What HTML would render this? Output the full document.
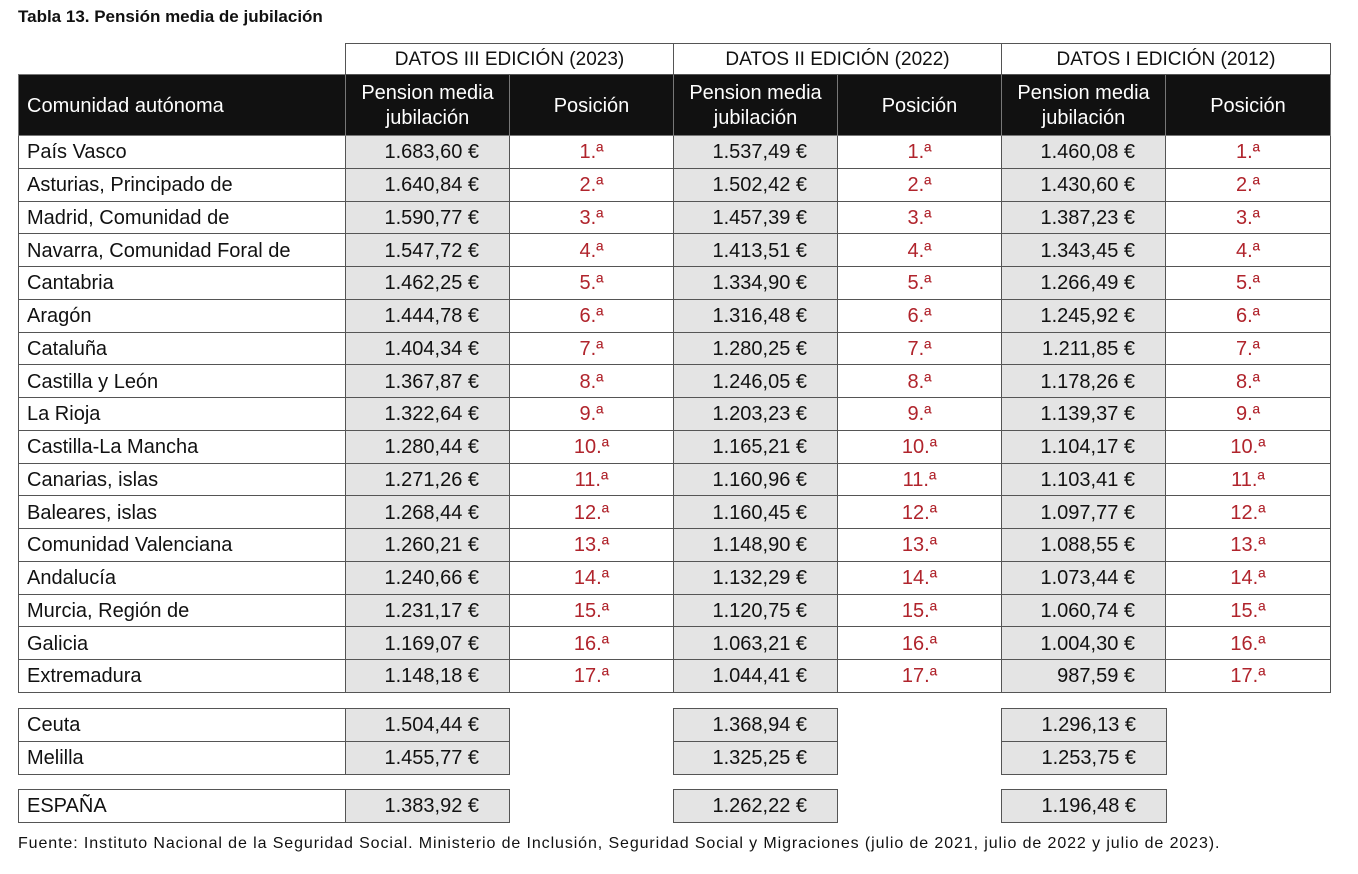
<!DOCTYPE html>
<html><head><meta charset="utf-8"><style>
body{margin:0;width:1358px;height:874px;background:#fff;position:relative;overflow:hidden;font-family:"Liberation Sans",sans-serif;color:#111}
.t{position:absolute;left:18px;top:7px;font-weight:bold;font-size:17px}
table{position:absolute;border-collapse:collapse;table-layout:fixed;font-size:20px}
td{border:1.5px solid #555;padding:0;white-space:nowrap;overflow:hidden;padding-top:2px}
td.n{padding-left:8px}
td.v{background:#e4e4e4;text-align:right;padding-right:30px}
td.p{color:#b0242c;text-align:center}
tr.d{height:32.76px}
tr.h1{height:31px}
.h1 td{text-align:center;font-size:19px}
tr.h2{height:61px}
.h2 td{background:#111;color:#fff;text-align:center;border-color:#777;line-height:25px}
.h2 td.n{text-align:left}
td.e{border:none;background:none}
.f{position:absolute;left:18px;top:835px;font-size:16px;letter-spacing:0.9px}
</style></head><body>
<div class="t">Tabla 13. Pensión media de jubilación</div>
<table style="left:18px;top:43px;width:1312px">
<colgroup><col style="width:327px"><col style="width:164px"><col style="width:164px"><col style="width:164px"><col style="width:164px"><col style="width:164px"><col style="width:165px"></colgroup>
<tr class="h1"><td class="e"></td><td colspan="2">DATOS III EDICIÓN (2023)</td><td colspan="2">DATOS II EDICIÓN (2022)</td><td colspan="2">DATOS I EDICIÓN (2012)</td></tr>
<tr class="h2"><td class="n">Comunidad autónoma</td><td>Pension media<br>jubilación</td><td>Posición</td><td>Pension media<br>jubilación</td><td>Posición</td><td>Pension media<br>jubilación</td><td>Posición</td></tr>
<tr class="d"><td class="n">País Vasco</td><td class="v">1.683,60 €</td><td class="p">1.ª</td><td class="v">1.537,49 €</td><td class="p">1.ª</td><td class="v">1.460,08 €</td><td class="p">1.ª</td></tr>
<tr class="d"><td class="n">Asturias, Principado de</td><td class="v">1.640,84 €</td><td class="p">2.ª</td><td class="v">1.502,42 €</td><td class="p">2.ª</td><td class="v">1.430,60 €</td><td class="p">2.ª</td></tr>
<tr class="d"><td class="n">Madrid, Comunidad de</td><td class="v">1.590,77 €</td><td class="p">3.ª</td><td class="v">1.457,39 €</td><td class="p">3.ª</td><td class="v">1.387,23 €</td><td class="p">3.ª</td></tr>
<tr class="d"><td class="n">Navarra, Comunidad Foral de</td><td class="v">1.547,72 €</td><td class="p">4.ª</td><td class="v">1.413,51 €</td><td class="p">4.ª</td><td class="v">1.343,45 €</td><td class="p">4.ª</td></tr>
<tr class="d"><td class="n">Cantabria</td><td class="v">1.462,25 €</td><td class="p">5.ª</td><td class="v">1.334,90 €</td><td class="p">5.ª</td><td class="v">1.266,49 €</td><td class="p">5.ª</td></tr>
<tr class="d"><td class="n">Aragón</td><td class="v">1.444,78 €</td><td class="p">6.ª</td><td class="v">1.316,48 €</td><td class="p">6.ª</td><td class="v">1.245,92 €</td><td class="p">6.ª</td></tr>
<tr class="d"><td class="n">Cataluña</td><td class="v">1.404,34 €</td><td class="p">7.ª</td><td class="v">1.280,25 €</td><td class="p">7.ª</td><td class="v">1.211,85 €</td><td class="p">7.ª</td></tr>
<tr class="d"><td class="n">Castilla y León</td><td class="v">1.367,87 €</td><td class="p">8.ª</td><td class="v">1.246,05 €</td><td class="p">8.ª</td><td class="v">1.178,26 €</td><td class="p">8.ª</td></tr>
<tr class="d"><td class="n">La Rioja</td><td class="v">1.322,64 €</td><td class="p">9.ª</td><td class="v">1.203,23 €</td><td class="p">9.ª</td><td class="v">1.139,37 €</td><td class="p">9.ª</td></tr>
<tr class="d"><td class="n">Castilla-La Mancha</td><td class="v">1.280,44 €</td><td class="p">10.ª</td><td class="v">1.165,21 €</td><td class="p">10.ª</td><td class="v">1.104,17 €</td><td class="p">10.ª</td></tr>
<tr class="d"><td class="n">Canarias, islas</td><td class="v">1.271,26 €</td><td class="p">11.ª</td><td class="v">1.160,96 €</td><td class="p">11.ª</td><td class="v">1.103,41 €</td><td class="p">11.ª</td></tr>
<tr class="d"><td class="n">Baleares, islas</td><td class="v">1.268,44 €</td><td class="p">12.ª</td><td class="v">1.160,45 €</td><td class="p">12.ª</td><td class="v">1.097,77 €</td><td class="p">12.ª</td></tr>
<tr class="d"><td class="n">Comunidad Valenciana</td><td class="v">1.260,21 €</td><td class="p">13.ª</td><td class="v">1.148,90 €</td><td class="p">13.ª</td><td class="v">1.088,55 €</td><td class="p">13.ª</td></tr>
<tr class="d"><td class="n">Andalucía</td><td class="v">1.240,66 €</td><td class="p">14.ª</td><td class="v">1.132,29 €</td><td class="p">14.ª</td><td class="v">1.073,44 €</td><td class="p">14.ª</td></tr>
<tr class="d"><td class="n">Murcia, Región de</td><td class="v">1.231,17 €</td><td class="p">15.ª</td><td class="v">1.120,75 €</td><td class="p">15.ª</td><td class="v">1.060,74 €</td><td class="p">15.ª</td></tr>
<tr class="d"><td class="n">Galicia</td><td class="v">1.169,07 €</td><td class="p">16.ª</td><td class="v">1.063,21 €</td><td class="p">16.ª</td><td class="v">1.004,30 €</td><td class="p">16.ª</td></tr>
<tr class="d"><td class="n">Extremadura</td><td class="v">1.148,18 €</td><td class="p">17.ª</td><td class="v">1.044,41 €</td><td class="p">17.ª</td><td class="v">987,59 €</td><td class="p">17.ª</td></tr>
</table>
<table style="left:18px;top:708px;width:1148px">
<colgroup><col style="width:327px"><col style="width:164px"><col style="width:164px"><col style="width:164px"><col style="width:164px"><col style="width:165px"></colgroup>
<tr class="d"><td class="n">Ceuta</td><td class="v">1.504,44 €</td><td class="e"></td><td class="v">1.368,94 €</td><td class="e"></td><td class="v">1.296,13 €</td></tr>
<tr class="d"><td class="n">Melilla</td><td class="v">1.455,77 €</td><td class="e"></td><td class="v">1.325,25 €</td><td class="e"></td><td class="v">1.253,75 €</td></tr>
</table>
<table style="left:18px;top:789px;width:1148px">
<colgroup><col style="width:327px"><col style="width:164px"><col style="width:164px"><col style="width:164px"><col style="width:164px"><col style="width:165px"></colgroup>
<tr class="d"><td class="n">ESPAÑA</td><td class="v">1.383,92 €</td><td class="e"></td><td class="v">1.262,22 €</td><td class="e"></td><td class="v">1.196,48 €</td></tr>
</table>
<div class="f">Fuente: Instituto Nacional de la Seguridad Social. Ministerio de Inclusión, Seguridad Social y Migraciones (julio de 2021, julio de 2022 y julio de 2023).</div>
</body></html>
